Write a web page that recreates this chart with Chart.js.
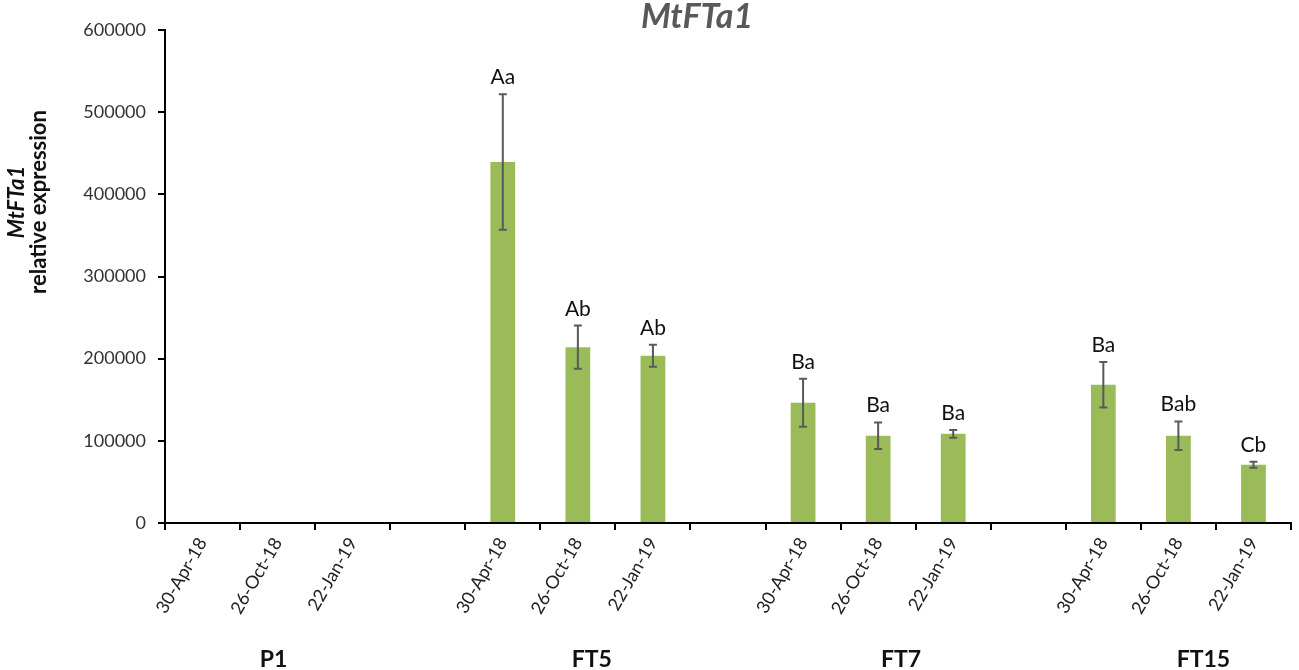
<!DOCTYPE html>
<html>
<head>
<meta charset="utf-8">
<script src="https://cdn.jsdelivr.net/npm/chart.js@4/dist/chart.umd.min.js"></script>
<style>
  html,body{margin:0;padding:0;background:#fff;}
  #wrap{width:1299px;height:670px;position:relative;}
</style>
</head>
<body>
<div id="wrap"><canvas id="myChart"></canvas></div>
<script>
// data
const groups = ['P1', 'FT5', 'FT7', 'FT15'];
const dates = ['30-Apr-18', '26-Oct-18', '22-Jan-19'];
const p1Values = [0, 0, 0];
const ft5Values = [439400, 214000, 203500];
const ft7Values = [146400, 106200, 108600];
const ft15Values = [168200, 106200, 70900];
const ft5Err = [82500, 26300, 13400];
const ft7Err = [29300, 16200, 4700];
const ft15Err = [27600, 17400, 3600];
const p1Letters = ['', '', ''];
const ft5Letters = ['Aa', 'Ab', 'Ab'];
const ft7Letters = ['Ba', 'Ba', 'Ba'];
const ft15Letters = ['Ba', 'Bab', 'Cb'];
const yTicks = [0, 100000, 200000, 300000, 400000, 500000, 600000];

// build 15 slots (3 dates per group, one empty slot between groups)
let labels = [], values = [], errs = [], letters = [];
const allVals = [p1Values, ft5Values, ft7Values, ft15Values];
const allErr = [[0, 0, 0], ft5Err, ft7Err, ft15Err];
const allLet = [p1Letters, ft5Letters, ft7Letters, ft15Letters];
groups.forEach((g, gi) => {
    if (gi > 0) { labels.push(''); values.push(null); errs.push(null); letters.push(''); }
    dates.forEach((d, di) => {
        labels.push(d);
        values.push(allVals[gi][di]);
        errs.push(allErr[gi][di]);
        letters.push(allLet[gi][di]);
    });
});
const groupShift = [-4, 14, 23, 25];

const extras = {
    id: 'extras',
    afterDatasetsDraw(chart) {
        const c = chart.ctx, x = chart.scales.x, y = chart.scales.y;
        c.save();
        values.forEach((v, i) => {
            if (v === null) return;
            const px = x.getPixelForValue(i);
            const e = errs[i];
            let top = y.getPixelForValue(v);
            if (e) {
                const t = y.getPixelForValue(v + e), b = y.getPixelForValue(v - e);
                c.strokeStyle = '#595959';
                c.lineWidth = 2;
                c.beginPath();
                c.moveTo(px, t); c.lineTo(px, b);
                c.moveTo(px - 4, t); c.lineTo(px + 4, t);
                c.moveTo(px - 4, b); c.lineTo(px + 4, b);
                c.stroke();
                top = t;
            }
            if (letters[i]) {
                c.fillStyle = '#111';
                c.font = '21px Lato';
                c.textAlign = 'center';
                c.textBaseline = 'alphabetic';
                c.fillText(letters[i], px, top - 10);
            }
        });
        c.restore();
    },
    afterDraw(chart) {
        const c = chart.ctx, x = chart.scales.x;
        c.save();
        // title
        c.fillStyle = '#595959';
        c.font = 'italic bold 34px Lato';
        c.textAlign = 'center';
        c.textBaseline = 'middle';
        c.fillText('MtFTa1', 697, 17);
        // group names under the dates
        c.fillStyle = '#111';
        c.font = 'bold 23px Lato';
        groups.forEach((g, gi) => {
            const px = x.getPixelForValue(gi * 4 + 1) + groupShift[gi];
            c.fillText(g, px, 660);
        });
        // y axis title, two lines
        c.translate(0, 202);
        c.rotate(-Math.PI / 2);
        c.fillStyle = '#111';
        c.font = 'italic bold 22px Lato';
        c.fillText('MtFTa1', 0, 17);
        c.font = 'bold 22px Lato';
        c.fillText('relative expression', 0, 39);
        c.restore();
    }
};

const ctx = document.getElementById('myChart').getContext('2d');
const myChart = new Chart(ctx, {
    type: 'bar',
    data: {
        labels: labels,
        datasets: [{
            data: values,
            backgroundColor: '#9BBB59',
            barPercentage: 1,
            categoryPercentage: 0.33
        }]
    },
    options: {
        responsive: true,
        maintainAspectRatio: false,
        animation: false,
        layout: { padding: { top: 30, right: 8, left: 0, bottom: 0 } },
        plugins: {
            legend: { display: false },
            title: { display: false },
            tooltip: { enabled: false }
        },
        scales: {
            x: {
                afterFit: s => { s.height = 147; },
                grid: { drawOnChartArea: false, offset: true, tickLength: 7, color: '#000', lineWidth: 2 },
                border: { color: '#000', width: 2 },
                ticks: {
                    autoSkip: false, maxRotation: 60, minRotation: 60,
                    color: '#222', font: { family: 'Lato', size: 18 }, padding: 4
                }
            },
            y: {
                min: 0, max: 600000,
                afterFit: s => { s.width = 165; },
                afterBuildTicks: s => { s.ticks = yTicks.map(v => ({ value: v })); },
                grid: { drawOnChartArea: false, tickLength: 7, color: '#000', lineWidth: 2 },
                border: { color: '#000', width: 2 },
                ticks: {
                    color: '#333', font: { family: 'Lato', size: 18 }, padding: 12,
                    callback: v => v
                }
            }
        }
    },
    plugins: [extras]
});
</script>
</body>
</html>
